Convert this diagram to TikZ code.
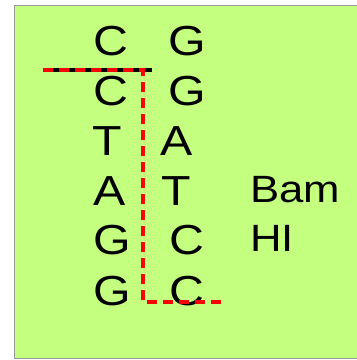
\documentclass[tikz,border=0pt]{standalone}
\usepackage{fontspec}
\setmainfont{Liberation Sans}[FakeStretch=1.15]
\begin{document}
\begin{tikzpicture}[x=1pt,y=-1pt,
  base/.style={anchor=base,inner sep=0pt,font=\fontsize{42}{42}\selectfont},
  lbl/.style={anchor=base west,inner sep=0pt,font=\fontsize{38}{40}\selectfont},
  cut/.style={red,line width=3.5pt,dash pattern=on 10pt off 6pt}]
\useasboundingbox (0,0) rectangle (357,360);
\definecolor{bg}{RGB}{196,255,128}
\path[fill=bg,draw=gray!80,line width=1pt] (15,5) rectangle (358,358);
% left strand
\node[base] (l1) at (111,55) {C};
\node[base] (l2) at (111,105) {C};
\node[base] (l3) at (107,155) {T};
\node[base] (l4) at (110,205) {A};
\node[base] (l5) at (112,254) {G};
\node[base] (l6) at (112,305) {G};
% right strand
\node[base] (r1) at (187,55) {G};
\node[base] (r2) at (187,105) {G};
\node[base] (r3) at (177,155) {A};
\node[base] (r4) at (176,205) {T};
\node[base] (r5) at (187,254) {C};
\node[base] (r6) at (187,305) {C};
% enzyme label
\node[lbl] (bam) at (250,202) {Bam};
\node[lbl] (hi) at (250,251) {HI};
% cut line
\coordinate (a) at (43,70);
\coordinate (b) at (152,70);
\coordinate (c) at (143,70);
\coordinate (d) at (143,302);
\coordinate (e) at (225,302);
\draw[black,line width=3.5pt] (a) -- (b);
\draw[cut] (a) -- (c) -- (d) -- (e);
\end{tikzpicture}
\end{document}
